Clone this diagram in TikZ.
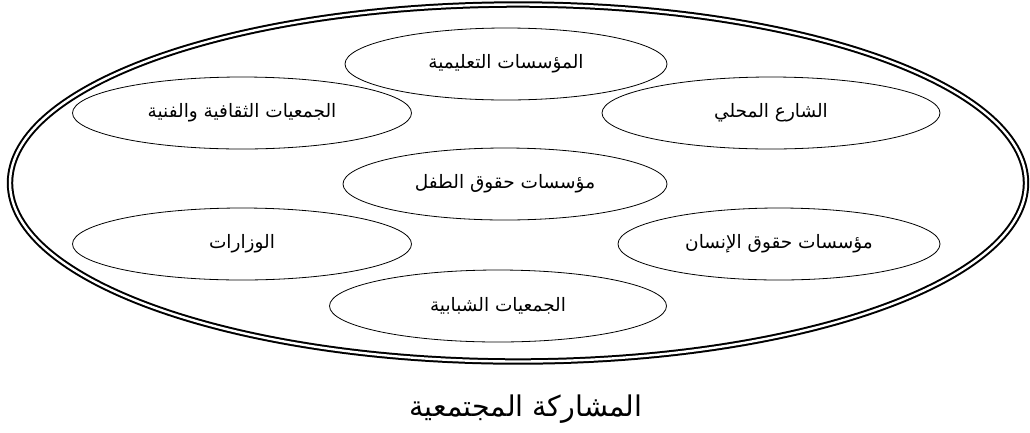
\documentclass[tikz,border=0pt]{standalone}
\usepackage{fontspec}
\usepackage{tikz}
\usetikzlibrary{shapes.geometric}
\newfontfamily\arabicfont[Script=Arabic]{DejaVu Sans}
\TeXXeTstate=1
\tikzset{
    every node/.style={font=\arabicfont\fontsize{18.5}{22}\selectfont},
    org/.style={ellipse, draw, line width=0.8pt, inner sep=0pt,
        minimum width=330pt, minimum height=72pt}
}

\begin{document}
\begin{tikzpicture}[x=1pt, y=-1pt]
	\useasboundingbox (0,0) rectangle (1030,432);
	\node (whole) [ellipse, draw, line width=2pt, double, double distance=2.4pt,
		minimum width=1016pt, minimum height=357pt] at (518,183) {};
	
	\node (edu) [org, minimum width=322pt] at (506,64) {\beginR المؤسسات التعليمية\endR};
	\node (culture) [org, minimum width=339pt] at (242,113) {\beginR الجمعيات الثقافية والفنية\endR};
	\node (street) [org, minimum width=338pt] at (771,113) {\beginR الشارع المحلي\endR};
	\node (child) [org, minimum width=324pt] at (505,184) {\beginR مؤسسات حقوق الطفل\endR};
	\node (ministries) [org, minimum width=339pt] at (242,244) {\beginR الوزارات\endR};
	\node (human) [org, minimum width=322pt] at (779,244) {\beginR مؤسسات حقوق الإنسان\endR};
	\node (youth) [org, minimum width=337pt] at (498,306) {\beginR الجمعيات الشبابية\endR};
	
	\node (title) [font=\arabicfont\fontsize{28.5}{32}\selectfont] at (526,409) {\beginR المشاركة المجتمعية\endR};
\end{tikzpicture}
\end{document}
